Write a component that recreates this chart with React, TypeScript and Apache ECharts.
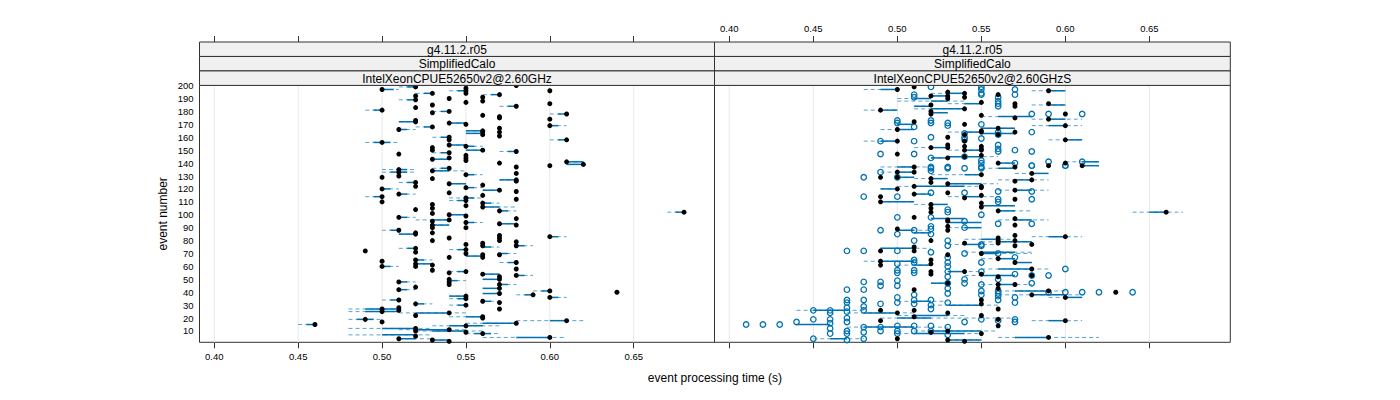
import React, { useEffect, useRef } from "react";
import * as echarts from "echarts";

// ---------- axis settings ----------
const X_MIN = 0.39118;
const X_MAX = 0.69816;
const Y_MIN = 1.24;
const Y_MAX = 200.15;
const xTicks = [0.4, 0.45, 0.5, 0.55, 0.6, 0.65];
const yTicks = [10, 20, 30, 40, 50, 60, 70, 80, 90, 100, 110, 120, 130, 140, 150, 160, 170, 180, 190, 200];
const stripLevels = ["g4.11.2.r05", "SimplifiedCalo"];
const panelNames = ["IntelXeonCPUE52650v2@2.60GHz", "IntelXeonCPUE52650v2@2.60GHzS"];
const xTitle = "event processing time (s)";
const yTitle = "event number";

// ---------- left panel ----------
// [time, event]
const leftDots = [
  [0.50,197],[0.52,199],[0.55,198],[0.55,196],[0.55,194],[0.58,200],[0.60,196],[0.53,194],[0.52,192],[0.52,189],
  [0.56,191],[0.56,188],[0.57,193],[0.54,190],[0.55,187],[0.60,186],[0.58,184],[0.53,185],[0.52,183],[0.53,179],
  [0.54,180],[0.50,181],[0.61,178],[0.56,177],[0.57,176],[0.57,175],[0.60,174],[0.52,173],[0.52,172],[0.54,171],
  [0.55,170],[0.53,168],[0.51,166],[0.60,169],[0.56,165],[0.56,164],[0.56,162],[0.57,167],[0.57,164],[0.57,161],
  [0.54,160],[0.54,158],[0.50,156],[0.61,158],[0.54,154],[0.55,153],
  [0.51,147],[0.53,152],[0.53,150],[0.56,150],[0.58,149],[0.54,148],[0.54,144],[0.53,143],[0.55,146],[0.55,144],
  [0.55,142],[0.57,140],[0.60,138],[0.61,141],[0.62,139],[0.58,137],[0.58,132],[0.58,127],[0.58,126],[0.51,135],
  [0.51,133],[0.51,130],[0.50,129],[0.53,134],[0.54,136],[0.53,128],[0.55,131],[0.52,125],[0.52,122],[0.54,124],
  [0.50,120],[0.55,121],[0.56,123],[0.57,119],[0.58,118],[0.58,112],[0.51,116],[0.54,117],[0.50,114],[0.50,110],
  [0.55,113],[0.55,111],[0.55,107],[0.56,115],[0.56,109],[0.56,106],[0.52,104],[0.53,108],[0.53,105],[0.53,101],
  [0.57,103],[0.68,102],[0.54,100],[0.55,99],[0.51,98],[0.58,97],[0.58,92],[0.54,96],[0.53,95],[0.53,92],
  [0.53,90],[0.53,86],[0.53,80],[0.55,94],[0.55,90],[0.57,93],[0.51,88],[0.52,86],[0.52,85],[0.54,82],
  [0.60,83],[0.57,84],[0.57,82],[0.56,78],[0.55,77],[0.58,79],
  [0.55,73],[0.55,70],[0.56,76],[0.56,69],[0.56,67],[0.56,54],[0.57,80],[0.57,69],[0.58,76],[0.58,63],
  [0.58,58],[0.58,53],[0.52,74],[0.52,71],[0.49,72],[0.54,67],[0.50,64],[0.50,60],[0.52,65],[0.52,62],
  [0.52,60],[0.53,61],[0.53,57],[0.54,55],[0.55,56],[0.57,52],[0.57,50],[0.57,46],[0.57,43],[0.57,39],
  [0.54,50],[0.54,48],[0.54,46],[0.51,48],[0.51,42],[0.51,34],[0.51,28],[0.51,26],[0.51,4],[0.52,44],
  [0.60,41],[0.64,40],[0.59,38],[0.60,36],[0.55,37],[0.55,35],[0.55,30],[0.56,33],[0.57,32],[0.57,27],
  [0.52,31],[0.50,27],[0.50,25],[0.50,17],[0.49,19],[0.54,24],[0.52,22],[0.56,21],[0.56,20],[0.61,18],
  [0.58,16],[0.46,15],[0.52,12],[0.52,10],[0.52,6],[0.54,11],[0.55,14],[0.55,9],[0.56,8],[0.53,3],
  [0.54,2],[0.60,5],
];
// [event, dashLo, dashHi, solidLo, solidHi]
const leftBars = [
  [197,0.50,0.51,0.50,0.507],[199,0.51,0.52,0.515,0.52],[194,0.52,0.53,0.525,0.53],[196,0.54,0.55,0.545,0.55],
  [193,0.56,0.57,0.565,0.57],[189,0.51,0.52,0.515,0.52],[184,0.57,0.58,0.575,0.58],[181,0.49,0.50,0.495,0.50],
  [180,0.53,0.54,0.535,0.54],[178,0.60,0.61,0.605,0.61],[172,0.51,0.52,0.51,0.52],[171,0.54,0.55,0.54,0.55],
  [168,0.52,0.53,0.525,0.53],[166,0.51,0.52,0.51,0.515],[169,0.60,0.61,0.60,0.605],[165,0.55,0.56,0.55,0.56],
  [163,0.55,0.56,0.55,0.56],[156,0.49,0.51,0.495,0.505],[158,0.60,0.61,0.605,0.61],[160,0.53,0.54,0.535,0.54],
  [154,0.54,0.55,0.54,0.55],[153,0.55,0.56,0.55,0.555],
  [150,0.55,0.56,0.55,0.56],[149,0.57,0.58,0.575,0.58],[148,0.53,0.54,0.535,0.54],[143,0.53,0.54,0.53,0.54],
  [141,0.61,0.62,0.61,0.62],[139,0.61,0.62,0.61,0.62],[134,0.53,0.55,0.53,0.54],[135,0.50,0.52,0.51,0.515],
  [133,0.50,0.52,0.505,0.515],[136,0.53,0.54,0.535,0.54],[131,0.55,0.56,0.55,0.555],[127,0.57,0.58,0.57,0.58],
  [125,0.51,0.52,0.515,0.52],[124,0.54,0.55,0.54,0.55],[121,0.55,0.56,0.55,0.555],[120,0.50,0.51,0.50,0.505],
  [119,0.56,0.57,0.56,0.57],[116,0.51,0.52,0.51,0.515],[114,0.49,0.50,0.495,0.50],[113,0.54,0.56,0.55,0.555],
  [111,0.54,0.55,0.545,0.55],[109,0.56,0.57,0.56,0.565],[106,0.56,0.58,0.56,0.57],[103,0.57,0.58,0.57,0.575],
  [102,0.67,0.68,0.675,0.68],[100,0.54,0.55,0.54,0.55],[98,0.51,0.52,0.51,0.515],[96,0.52,0.54,0.53,0.54],
  [94,0.55,0.56,0.55,0.555],[93,0.57,0.58,0.57,0.58],[92,0.53,0.54,0.53,0.54],[88,0.50,0.51,0.505,0.51],
  [85,0.51,0.52,0.51,0.52],[83,0.60,0.61,0.60,0.605],
  [76,0.58,0.59,0.58,0.585],[75,0.56,0.57,0.56,0.565],[74,0.51,0.52,0.515,0.52],[73,0.54,0.55,0.545,0.55],
  [70,0.57,0.58,0.57,0.575],[68,0.55,0.56,0.55,0.56],[65,0.52,0.53,0.52,0.525],[63,0.57,0.58,0.575,0.58],
  [62,0.52,0.53,0.52,0.53],[60,0.50,0.51,0.50,0.505],[56,0.54,0.55,0.545,0.55],[53,0.58,0.59,0.58,0.585],
  [54,0.56,0.57,0.56,0.57],[50,0.56,0.57,0.56,0.57],[49,0.54,0.55,0.54,0.545],[48,0.51,0.52,0.51,0.515],
  [46,0.57,0.58,0.57,0.575],[42,0.51,0.52,0.51,0.515],[43,0.56,0.57,0.56,0.57],[41,0.59,0.60,0.595,0.60],
  [39,0.56,0.57,0.56,0.57],[38,0.58,0.59,0.585,0.59],[36,0.60,0.61,0.60,0.605],[37,0.54,0.55,0.54,0.55],
  [35,0.54,0.55,0.545,0.55],[34,0.50,0.51,0.505,0.51],[33,0.56,0.57,0.56,0.565],[31,0.52,0.53,0.52,0.525],
  [30,0.54,0.55,0.545,0.55],[27,0.48,0.51,0.49,0.51],[25,0.48,0.51,0.49,0.51],[24,0.51,0.55,0.52,0.54],
  [21,0.54,0.56,0.55,0.56],[19,0.48,0.50,0.485,0.495],[18,0.58,0.62,0.60,0.61],[16,0.55,0.58,0.56,0.58],
  [15,0.45,0.46,0.455,0.46],[14,0.53,0.57,0.54,0.56],[12,0.48,0.53,0.50,0.52],[11,0.51,0.55,0.52,0.54],
  [10,0.52,0.56,0.53,0.55],[8,0.55,0.57,0.555,0.565],[7,0.48,0.53,0.50,0.52],[5,0.56,0.61,0.58,0.60],
  [4,0.51,0.53,0.51,0.52],[3,0.53,0.54,0.53,0.54],
];

// ---------- right panel ----------
const rightDots = [
  [0.51,199],[0.50,197],[0.59,196],[0.53,195],[0.54,194],[0.52,192],[0.53,192],[0.54,191],[0.53,190],[0.55,187],
  [0.59,186],[0.52,185],[0.57,184],[0.54,182],[0.49,181],[0.52,180],[0.52,178],[0.60,178],[0.55,177],[0.57,175],
  [0.59,174],[0.51,172],[0.54,170],[0.60,169],[0.56,167],[0.50,166],[0.55,165],[0.55,164],[0.54,162],[0.57,164],
  [0.56,162],[0.53,160],[0.60,158],[0.50,157],[0.54,157],[0.53,154],[0.55,153],[0.54,153],[0.52,152],[0.53,152],
  [0.55,151],[0.54,150],[0.55,150],[0.50,147],[0.55,146],[0.54,145],[0.53,144],[0.56,140],[0.60,140],[0.57,137],
  [0.51,137],[0.56,193],[0.57,186],
  [0.59,138],[0.61,138],[0.50,133],[0.50,129],[0.49,129],[0.51,133],[0.51,122],[0.51,116],[0.52,128],[0.52,125],
  [0.53,124],[0.53,117],[0.55,131],[0.55,122],[0.55,121],[0.55,115],[0.55,109],[0.55,106],[0.58,132],[0.58,127],
  [0.57,126],[0.57,119],[0.57,112],[0.50,120],[0.49,114],[0.49,110],[0.54,113],[0.52,108],[0.52,105],[0.52,102],
  [0.56,103],[0.66,102],[0.51,98],[0.53,96],[0.53,95],[0.53,91],[0.53,88],[0.57,97],[0.57,92],[0.50,89],
  [0.52,80],[0.56,82],[0.56,80],[0.56,78],[0.57,84],[0.57,80],[0.57,76],[0.60,83],[0.58,77],[0.54,78],
  [0.51,75],[0.51,72],[0.49,72],[0.53,69],
  [0.56,66],[0.49,64],[0.49,61],[0.52,65],[0.52,62],[0.52,56],[0.52,54],[0.57,63],[0.58,58],[0.58,53],
  [0.57,46],[0.54,56],[0.55,54],[0.56,52],[0.53,47],[0.51,42],[0.58,38],[0.60,36],[0.63,40],[0.59,41],
  [0.56,46],[0.56,43],[0.56,27],[0.55,34],[0.55,31],[0.49,26],[0.49,18],[0.50,24],[0.50,4],[0.51,26],
  [0.51,21],[0.52,9],[0.53,24],[0.53,10],[0.53,3],[0.55,22],[0.55,8],[0.56,19],[0.56,14],[0.60,18],
  [0.59,5],[0.54,2],[0.55,70],
];
const rightOpen = [
  [0.52,199],[0.51,193],[0.51,191],[0.55,199],[0.55,197],[0.55,194],[0.55,193],[0.57,197],[0.57,193],[0.56,191],
  [0.56,188],[0.56,186],[0.56,184],[0.58,178],[0.59,178],[0.61,178],[0.50,173],[0.50,171],[0.52,173],[0.52,171],
  [0.53,171],[0.53,169],[0.55,170],[0.51,168],[0.58,164],[0.56,164],[0.56,162],[0.49,157],[0.51,157],[0.52,160],
  [0.54,163],[0.54,160],[0.54,158],[0.55,159],[0.49,147],[0.51,147],[0.56,154],[0.56,151],[0.56,149],[0.57,150],
  [0.58,149],[0.52,144],[0.54,145],[0.55,142],[0.55,140],[0.55,137],[0.57,140],[0.58,138],[0.59,141],[0.60,138],
  [0.61,141],[0.52,137],[0.53,137],
  [0.49,133],[0.50,129],[0.48,129],[0.52,136],[0.52,134],[0.53,136],[0.54,136],[0.55,136],[0.58,138],[0.60,138],
  [0.48,114],[0.50,114],[0.52,117],[0.54,117],[0.56,118],[0.58,118],[0.58,112],[0.56,112],[0.56,110],[0.53,104],
  [0.53,102],[0.55,100],[0.50,98],[0.52,98],[0.54,95],[0.54,90],[0.52,91],[0.52,89],[0.52,85],[0.49,88],
  [0.51,88],[0.50,85],[0.51,80],[0.56,93],[0.58,93],[0.53,80],[0.53,76],[0.55,77],[0.55,76],[0.47,72],
  [0.48,72],[0.50,72],[0.52,71],[0.54,70],
  [0.56,70],[0.57,67],[0.51,65],[0.51,63],[0.51,57],[0.51,55],[0.50,62],[0.50,57],[0.50,55],[0.53,67],
  [0.53,63],[0.53,60],[0.53,56],[0.53,52],[0.53,47],[0.53,43],[0.53,39],[0.53,32],[0.54,50],[0.54,47],
  [0.55,63],[0.55,56],[0.55,46],[0.55,41],[0.55,38],[0.56,50],[0.56,41],[0.56,39],[0.56,37],[0.56,34],
  [0.57,54],[0.57,36],[0.57,32],[0.58,47],[0.59,53],[0.60,58],[0.59,40],[0.60,40],[0.61,40],[0.62,40],
  [0.64,40],[0.47,42],[0.48,48],[0.48,42],[0.48,34],[0.49,48],[0.49,45],[0.49,31],[0.50,49],[0.50,45],
  [0.50,36],[0.50,32],[0.51,38],[0.51,34],[0.51,31],[0.52,34],[0.52,30],[0.52,27],[0.45,26],[0.46,26],
  [0.46,24],[0.47,34],[0.47,32],[0.47,28],[0.47,25],[0.48,29],[0.48,26],[0.41,15],[0.42,15],[0.43,15],
  [0.44,17],[0.45,19],[0.46,19],[0.46,16],[0.46,12],[0.46,8],[0.47,20],[0.47,17],[0.47,10],[0.47,8],
  [0.47,3],[0.48,13],[0.48,9],[0.48,4],[0.45,4],[0.49,13],[0.49,10],[0.50,14],[0.50,10],[0.50,8],
  [0.51,14],[0.51,10],[0.52,14],[0.52,10],[0.53,13],[0.53,7],[0.54,17],[0.55,19],[0.56,18],[0.57,19],
  [0.57,17],[0.58,53],
];
const rightBars = [
  [197,0.48,0.50,0.49,0.50],[196,0.58,0.60,0.59,0.60],[194,0.52,0.54,0.53,0.54],[192,0.52,0.53,0.52,0.53],
  [190,0.50,0.52,0.51,0.52],[188,0.50,0.54,0.52,0.53],[186,0.53,0.55,0.54,0.55],[185,0.58,0.60,0.59,0.60],
  [184,0.51,0.52,0.51,0.52],[182,0.51,0.54,0.52,0.54],[181,0.48,0.50,0.49,0.50],[179,0.52,0.53,0.52,0.53],
  [176,0.55,0.58,0.56,0.58],[174,0.58,0.61,0.59,0.60],[169,0.58,0.61,0.59,0.60],[170,0.50,0.51,0.50,0.51],
  [167,0.55,0.57,0.55,0.57],[166,0.49,0.51,0.50,0.51],[164,0.53,0.55,0.54,0.55],[163,0.55,0.57,0.55,0.57],
  [158,0.59,0.61,0.60,0.61],[157,0.48,0.50,0.49,0.50],[152,0.51,0.53,0.52,0.53],[150,0.53,0.55,0.54,0.55],
  [145,0.53,0.56,0.53,0.55],[144,0.52,0.53,0.52,0.53],[140,0.56,0.57,0.56,0.57],[141,0.60,0.62,0.61,0.62],
  [137,0.49,0.52,0.50,0.51],
  [136,0.55,0.57,0.56,0.57],[138,0.61,0.62,0.61,0.62],[133,0.49,0.51,0.50,0.51],[132,0.57,0.59,0.58,0.59],
  [131,0.52,0.55,0.54,0.55],[129,0.50,0.51,0.50,0.51],[128,0.51,0.53,0.52,0.53],[127,0.56,0.59,0.57,0.58],
  [124,0.53,0.56,0.53,0.55],[122,0.50,0.55,0.51,0.54],[120,0.49,0.50,0.49,0.50],[119,0.56,0.59,0.57,0.58],
  [116,0.51,0.52,0.51,0.52],[114,0.53,0.56,0.54,0.55],[110,0.49,0.51,0.49,0.51],[108,0.51,0.53,0.52,0.53],
  [107,0.55,0.57,0.55,0.57],[103,0.56,0.58,0.56,0.57],[102,0.64,0.67,0.65,0.66],[97,0.52,0.54,0.52,0.54],
  [96,0.56,0.59,0.57,0.58],[94,0.53,0.55,0.53,0.55],[90,0.53,0.55,0.54,0.55],[88,0.50,0.52,0.50,0.51],
  [86,0.51,0.52,0.51,0.52],[83,0.58,0.61,0.59,0.60],[81,0.54,0.57,0.55,0.56],[79,0.55,0.58,0.56,0.58],
  [77,0.53,0.56,0.54,0.55],[74,0.49,0.52,0.49,0.51],[71,0.54,0.58,0.55,0.57],
  [70,0.55,0.58,0.55,0.56],[66,0.55,0.57,0.56,0.57],[64,0.48,0.51,0.49,0.51],[61,0.50,0.52,0.51,0.52],
  [63,0.57,0.58,0.57,0.58],[58,0.55,0.59,0.56,0.58],[56,0.53,0.55,0.53,0.54],[53,0.54,0.57,0.55,0.57],
  [47,0.52,0.53,0.52,0.53],[46,0.55,0.58,0.56,0.57],[41,0.56,0.60,0.57,0.59],[38,0.56,0.61,0.58,0.60],
  [36,0.59,0.61,0.60,0.61],[33,0.50,0.53,0.51,0.52],[30,0.52,0.56,0.53,0.55],[26,0.44,0.48,0.45,0.47],
  [24,0.47,0.51,0.48,0.50],[22,0.50,0.54,0.51,0.53],[20,0.49,0.57,0.50,0.52],[18,0.58,0.61,0.59,0.60],
  [15,0.44,0.46,0.44,0.46],[13,0.47,0.53,0.48,0.51],[10,0.51,0.56,0.52,0.55],[8,0.50,0.55,0.51,0.54],
  [5,0.56,0.62,0.57,0.59],[4,0.45,0.48,0.46,0.47],[3,0.53,0.55,0.53,0.55],
];

// ---------- layout ----------
const FONT = "'Liberation Sans', Arial, Helvetica, sans-serif";
const PANEL_TOP = 85.4;
const PANEL_BOTTOM = 342.3;
const PANEL_LEFTS = [199.5, 714.5];
const PANEL_WIDTHS = [515, 515.8];
const STRIP_TOP = 42;
const STRIP_H = (PANEL_TOP - STRIP_TOP) / 3;
const BLUE = "#0072B2";

function App() {
  const ref = useRef<HTMLDivElement>(null);

  useEffect(() => {
    if (!ref.current) return;
    const chart = echarts.init(ref.current, undefined, { renderer: "svg" });

    const grids = PANEL_LEFTS.map((l, i) => ({
      left: l,
      top: PANEL_TOP,
      width: PANEL_WIDTHS[i],
      height: PANEL_BOTTOM - PANEL_TOP,
      show: true,
      borderColor: "#333",
      borderWidth: 1,
      backgroundColor: "transparent",
      containLabel: false,
    }));

    const xAxes: any[] = [];
    [0, 1].forEach((i) => {
      ["bottom", "top"].forEach((pos) => {
        const showLabel = (i === 0 && pos === "bottom") || (i === 1 && pos === "top");
        xAxes.push({
          gridIndex: i,
          type: "value",
          min: X_MIN,
          max: X_MAX,
          position: pos,
          offset: pos === "top" ? PANEL_TOP - STRIP_TOP : 0,
          axisLine: { show: false },
          axisTick: {
            show: true,
            inside: false,
            length: 6,
            customValues: xTicks,
            lineStyle: { color: "#333", width: 1 },
          },
          axisLabel: {
            show: showLabel,
            customValues: xTicks,
            formatter: (v: number) => v.toFixed(2),
            margin: 9,
            fontSize: 9.5,
            color: "#000",
            fontFamily: FONT,
          },
          splitLine: { show: false },
        });
      });
    });

    const yAxes = [0, 1].map((i) => ({
      gridIndex: i,
      type: "value",
      min: Y_MIN,
      max: Y_MAX,
      axisLine: { show: false },
      axisTick: { show: false },
      splitLine: { show: false },
      axisLabel: {
        show: i === 0,
        customValues: yTicks,
        margin: 6,
        fontSize: 9.5,
        color: "#000",
        fontFamily: FONT,
      },
      name: i === 0 ? yTitle : "",
      nameLocation: "middle",
      nameRotate: 90,
      nameGap: 31,
      nameTextStyle: { fontSize: 12, color: "#000", fontFamily: FONT },
    }));

    const gridLineSeries = (i: number) => ({
      type: "custom",
      xAxisIndex: i * 2,
      yAxisIndex: i,
      silent: true,
      z: 1,
      data: xTicks.map((v) => [v]),
      renderItem: (_p: any, api: any) => {
        const a = api.coord([api.value(0), Y_MIN]);
        const b = api.coord([api.value(0), Y_MAX]);
        return {
          type: "line",
          shape: { x1: a[0], y1: a[1], x2: b[0], y2: b[1] },
          style: { stroke: "#E8E8E8", lineWidth: 1 },
        };
      },
    });

    const barSeries = (i: number, data: number[][]) => ({
      type: "custom",
      xAxisIndex: i * 2,
      yAxisIndex: i,
      silent: true,
      z: 2,
      data,
      renderItem: (_p: any, api: any) => {
        const ev = api.value(0);
        const d0 = api.coord([api.value(1), ev]);
        const d1 = api.coord([api.value(2), ev]);
        const s0 = api.coord([api.value(3), ev]);
        const s1 = api.coord([api.value(4), ev]);
        return {
          type: "group",
          children: [
            {
              type: "line",
              shape: { x1: d0[0], y1: d0[1], x2: d1[0], y2: d1[1] },
              style: { stroke: BLUE, lineWidth: 1, lineDash: [4, 3], opacity: 0.65 },
            },
            {
              type: "line",
              shape: { x1: s0[0], y1: s0[1], x2: s1[0], y2: s1[1] },
              style: { stroke: BLUE, lineWidth: 1.5 },
            },
          ],
        };
      },
    });

    const dotSeries = (i: number, data: number[][]) => ({
      type: "scatter",
      xAxisIndex: i * 2,
      yAxisIndex: i,
      z: 4,
      symbol: "circle",
      symbolSize: 5,
      itemStyle: { color: "#000", opacity: 1 },
      data,
    });

    const openSeries = (i: number, data: number[][]) => ({
      type: "scatter",
      xAxisIndex: i * 2,
      yAxisIndex: i,
      z: 3,
      symbol: "circle",
      symbolSize: 5.5,
      itemStyle: { color: "rgba(255,255,255,0)", borderColor: BLUE, borderWidth: 1.3, opacity: 1 },
      data,
    });

    const graphics: any[] = [];
    PANEL_LEFTS.forEach((l, i) => {
      const labels = [...stripLevels, panelNames[i]];
      labels.forEach((t, k) => {
        const y = STRIP_TOP + k * STRIP_H;
        graphics.push({
          type: "rect",
          shape: { x: l, y, width: PANEL_WIDTHS[i], height: STRIP_H },
          style: { fill: "#F0F0F0", stroke: "#333", lineWidth: 1 },
          z: 10,
        });
        graphics.push({
          type: "text",
          x: l + PANEL_WIDTHS[i] / 2,
          y: y + STRIP_H / 2 + 0.5,
          style: {
            text: t,
            fontSize: 12,
            fontFamily: FONT,
            fill: "#000",
            textAlign: "center",
            textVerticalAlign: "middle",
          },
          z: 11,
        });
      });
    });
    graphics.push({
      type: "text",
      x: (PANEL_LEFTS[0] + PANEL_LEFTS[1] + PANEL_WIDTHS[1]) / 2,
      y: 378,
      style: {
        text: xTitle,
        fontSize: 12,
        fontFamily: FONT,
        fill: "#000",
        textAlign: "center",
        textVerticalAlign: "middle",
      },
    });

    chart.setOption({
      animation: false,
      backgroundColor: "#fff",
      textStyle: { fontFamily: FONT },
      grid: grids,
      xAxis: xAxes,
      yAxis: yAxes,
      graphic: graphics,
      series: [
        gridLineSeries(0),
        gridLineSeries(1),
        barSeries(0, leftBars),
        barSeries(1, rightBars),
        openSeries(1, rightOpen),
        dotSeries(0, leftDots),
        dotSeries(1, rightDots),
      ],
    });

    return () => chart.dispose();
  }, []);

  return (
    <div
      ref={ref}
      style={{ position: "fixed", left: 0, top: 0, width: 1400, height: 400 }}
    />
  );
}

export default App;
